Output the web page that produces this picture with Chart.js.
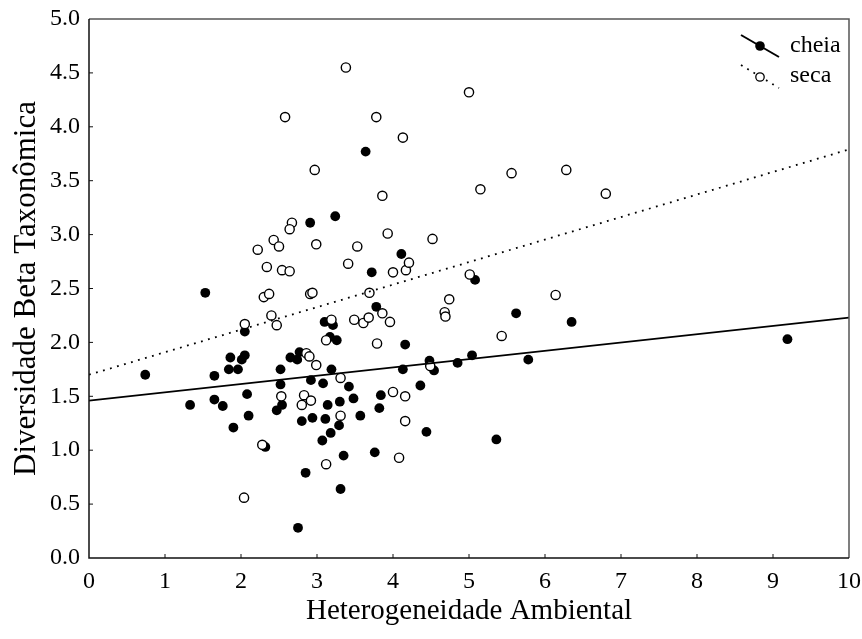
<!DOCTYPE html>
<html>
<head>
<meta charset="utf-8">
<script src="https://cdn.jsdelivr.net/npm/chart.js@4"></script>
<style>
  body { margin: 0; background: #fff; }
  #wrap { width: 862px; height: 639px; }
</style>
</head>
<body>
<div id="wrap"><canvas id="chart" width="862" height="639"></canvas></div>
<script>
// cheia (filled points)
const cheiaX = [0.74, 1.53, 1.33, 1.65, 1.65, 1.76, 1.86, 1.84, 1.96, 2.01, 2.05, 2.05, 2.08, 2.10, 1.90,
  2.32, 2.47, 2.54, 2.52, 2.52, 2.65, 2.74, 2.77, 2.80, 2.85, 2.75, 2.92, 2.94, 3.08, 3.14,
  3.11, 3.18, 3.07, 3.10, 3.21, 3.26, 3.17, 3.19, 3.30, 3.29, 3.42, 3.48, 3.57, 3.35, 3.31,
  3.76, 3.82, 3.84, 3.78, 4.13, 4.16, 4.36, 4.44, 4.48, 4.54, 4.85, 5.04, 5.36, 5.62, 5.78,
  6.35, 5.08, 9.19, 3.64, 3.24, 4.11, 3.72, 2.91];
const cheiaY = [1.70, 2.46, 1.42, 1.69, 1.47, 1.41, 1.86, 1.75, 1.75, 1.84, 1.88, 2.10, 1.52, 1.32, 1.21,
  1.03, 1.37, 1.42, 1.61, 1.75, 1.86, 1.84, 1.91, 1.27, 0.79, 0.28, 1.65, 1.30, 1.62, 1.42,
  1.29, 1.16, 1.09, 2.19, 2.16, 2.02, 2.05, 1.75, 1.45, 1.23, 1.59, 1.48, 1.32, 0.95, 0.64,
  0.98, 1.39, 1.51, 2.33, 1.75, 1.98, 1.60, 1.17, 1.83, 1.74, 1.81, 1.88, 1.10, 2.27, 1.84,
  2.19, 2.58, 2.03, 3.77, 3.17, 2.82, 2.65, 3.11];

// seca (open points)
const secaX = [2.58, 2.97, 2.67, 2.64, 2.43, 2.50, 2.22, 2.99, 2.34, 2.54, 2.64, 3.38, 5.00, 3.78, 4.13,
  3.86, 5.56, 6.28, 5.15, 3.93, 3.53, 4.52, 3.41, 4.00, 4.17, 4.21, 5.01, 6.80, 2.30, 2.37,
  2.91, 2.94, 2.40, 2.47, 2.05, 3.19, 3.12, 2.86, 2.90, 2.99, 2.53, 2.83, 2.92, 2.80, 2.28,
  3.12, 2.04, 3.31, 3.31, 3.69, 4.74, 4.68, 4.69, 6.14, 3.49, 3.61, 3.68, 3.86, 3.96, 3.79,
  5.43, 4.49, 4.00, 4.16, 4.16, 4.08];
const secaY = [4.09, 3.60, 3.11, 3.05, 2.95, 2.89, 2.86, 2.91, 2.70, 2.67, 2.66, 4.55, 4.32, 4.09, 3.90,
  3.36, 3.57, 3.60, 3.42, 3.01, 2.89, 2.96, 2.73, 2.65, 2.67, 2.74, 2.63, 3.38, 2.42, 2.45,
  2.45, 2.46, 2.25, 2.16, 2.17, 2.21, 2.02, 1.90, 1.87, 1.79, 1.50, 1.51, 1.46, 1.42, 1.05,
  0.87, 0.56, 1.67, 1.32, 2.46, 2.40, 2.28, 2.24, 2.44, 2.21, 2.18, 2.23, 2.27, 2.19, 1.99,
  2.06, 1.78, 1.54, 1.50, 1.27, 0.93];

// fitted lines (end points at x = 0 and x = 10)
const fitX = [0, 10];
const cheiaFitY = [1.46, 2.23];
const secaFitY = [1.70, 3.79];

const xTicks = [0, 1, 2, 3, 4, 5, 6, 7, 8, 9, 10];
const yTicks = [0.0, 0.5, 1.0, 1.5, 2.0, 2.5, 3.0, 3.5, 4.0, 4.5, 5.0];

const toPts = (xs, ys) => xs.map((x, i) => ({ x: x, y: ys[i] }));

const serif = "'Liberation Serif', 'Times New Roman', serif";

// frame, inward ticks and legend
const framePlugin = {
  id: 'frame',
  afterDraw(chart) {
    const ctx = chart.ctx;
    const a = chart.chartArea;
    const xs = chart.scales.x, ys = chart.scales.y;
    ctx.save();
    ctx.lineWidth = 1.5;
    ctx.strokeStyle = '#555';
    ctx.beginPath();
    ctx.moveTo(a.left, a.top); ctx.lineTo(a.right, a.top); ctx.lineTo(a.right, a.bottom);
    ctx.stroke();
    ctx.strokeStyle = '#111';
    ctx.beginPath();
    ctx.moveTo(a.left, a.top); ctx.lineTo(a.left, a.bottom); ctx.lineTo(a.right, a.bottom);
    ctx.stroke();

    ctx.lineWidth = 1;
    ctx.beginPath();
    xTicks.slice(1, -1).forEach(v => {
      const px = xs.getPixelForValue(v);
      ctx.moveTo(px, a.bottom); ctx.lineTo(px, a.bottom - 4);
    });
    yTicks.slice(1, -1).forEach(v => {
      const py = ys.getPixelForValue(v);
      ctx.moveTo(a.left, py); ctx.lineTo(a.left + 4, py);
    });
    ctx.stroke();

    // legend
    ctx.strokeStyle = '#000';
    ctx.lineWidth = 2;
    ctx.beginPath();
    ctx.moveTo(741, 35); ctx.lineTo(779, 57);
    ctx.stroke();
    ctx.fillStyle = '#000';
    ctx.beginPath(); ctx.arc(760, 46, 4.8, 0, Math.PI * 2); ctx.fill();

    ctx.lineWidth = 1.8;
    ctx.setLineDash([1.8, 5.5]);
    ctx.beginPath();
    ctx.moveTo(741, 65); ctx.lineTo(779, 88);
    ctx.stroke();
    ctx.setLineDash([]);
    ctx.fillStyle = '#fff';
    ctx.lineWidth = 1.3;
    ctx.beginPath(); ctx.arc(760, 77, 4.2, 0, Math.PI * 2); ctx.fill(); ctx.stroke();

    ctx.fillStyle = '#000';
    ctx.font = '24px ' + serif;
    ctx.textAlign = 'left';
    ctx.textBaseline = 'middle';
    ctx.fillText('cheia', 790, 46);
    ctx.fillText('seca', 790, 76);
    ctx.restore();
  }
};

new Chart(document.getElementById('chart'), {
  type: 'scatter',
  data: {
    datasets: [
      {
        label: 'cheia ajuste',
        type: 'line',
        data: toPts(fitX, cheiaFitY),
        borderColor: '#000',
        borderWidth: 1.8,
        pointRadius: 0,
        fill: false,
        order: 0
      },
      {
        label: 'seca ajuste',
        type: 'line',
        data: toPts(fitX, secaFitY),
        borderColor: '#000',
        borderWidth: 1.8,
        borderDash: [1.8, 5.5],
        pointRadius: 0,
        fill: false,
        order: 0
      },
      {
        label: 'seca',
        data: toPts(secaX, secaY),
        pointRadius: 4.6,
        backgroundColor: '#fff',
        borderColor: '#000',
        borderWidth: 1.4,
        order: 1
      },
      {
        label: 'cheia',
        data: toPts(cheiaX, cheiaY),
        pointRadius: 4.9,
        backgroundColor: '#000',
        borderColor: '#000',
        borderWidth: 0,
        order: 2
      }
    ]
  },
  options: {
    responsive: false,
    animation: false,
    layout: { padding: { left: 0, right: 13, top: 19, bottom: 0 } },
    plugins: {
      legend: { display: false },
      tooltip: { enabled: false }
    },
    scales: {
      x: {
        type: 'linear',
        min: 0,
        max: 10,
        afterFit(scale) {
          scale.height = 81;
          scale.paddingLeft = 0;
          scale.paddingRight = 0;
        },
        afterBuildTicks(scale) { scale.ticks = xTicks.map(v => ({ value: v })); },
        grid: { display: false, drawTicks: false },
        border: { display: false },
        ticks: {
          padding: 9,
          color: '#000',
          font: { family: serif, size: 24 },
          maxRotation: 0
        },
        title: {
          display: true,
          text: 'Heterogeneidade Ambiental',
          color: '#000',
          font: { family: serif, size: 29 },
          padding: { top: 0, bottom: 10 }
        }
      },
      y: {
        type: 'linear',
        min: 0,
        max: 5,
        afterFit(scale) {
          scale.width = 89;
          scale.paddingTop = 0;
          scale.paddingBottom = 0;
        },
        afterBuildTicks(scale) { scale.ticks = yTicks.map(v => ({ value: v })); },
        grid: { display: false, drawTicks: false },
        border: { display: false },
        ticks: {
          padding: 9,
          color: '#000',
          font: { family: serif, size: 24 },
          callback: v => Number(v).toFixed(1)
        },
        title: {
          display: true,
          text: 'Diversidade Beta Taxonômica',
          color: '#000',
          font: { family: serif, size: 31 },
          padding: { top: 8, bottom: 0 }
        }
      }
    }
  },
  plugins: [framePlugin]
});
</script>
</body>
</html>
